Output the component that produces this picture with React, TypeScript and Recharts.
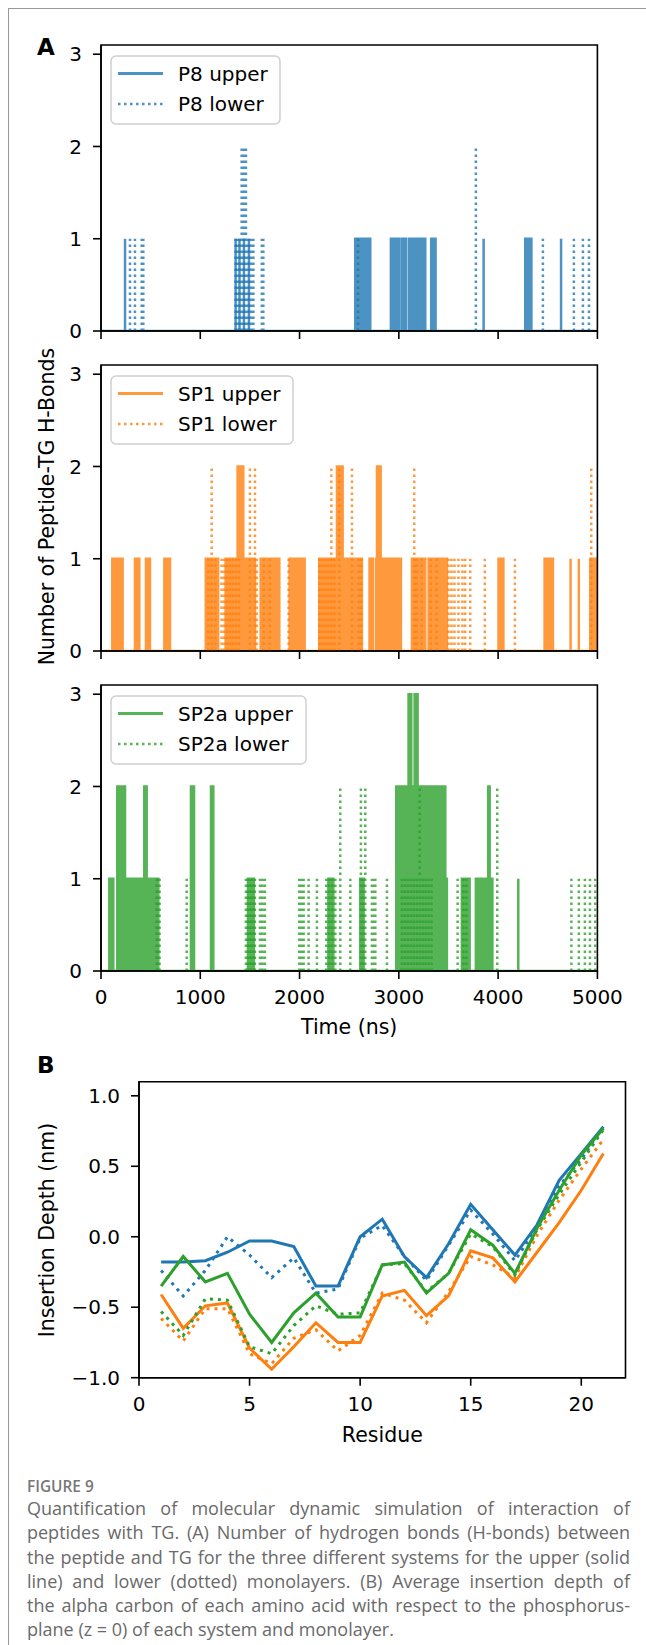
import React from 'react'
import { ComposedChart, Area, Line, LineChart, XAxis, YAxis, ReferenceArea } from 'recharts'

// ---- panel A: peptide-TG H-bonds over time ----
const timeTicks = [0, 1000, 2000, 3000, 4000, 5000]
const countTicks = [0, 1, 2, 3]

// upper monolayer (solid): [start ns, end ns, bonds]
const p8Upper = [
  [242, 242, 1], [1356, 1356, 1], [1395, 1395, 1], [1440, 1440, 1], [1490, 1490, 1],
  [2561, 2712, 1], [2920, 3004, 1], [3031, 3075, 1], [3105, 3205, 1], [3226, 3266, 1],
  [3326, 3370, 1], [3854, 3854, 1], [4273, 4335, 1], [4634, 4634, 1],
]
// lower monolayer (dotted): [time ns, bonds]
const p8Lower = [
  [292, 1], [342, 1], [410, 1], [426, 1], [1355, 1], [1370, 1], [1385, 1], [1400, 1],
  [1417, 2], [1430, 2], [1445, 2], [1460, 2], [1475, 1], [1500, 1], [1520, 1], [1535, 1],
  [1620, 1], [1635, 1], [2588, 1], [3776, 2], [4451, 1], [4763, 1], [4854, 1], [4915, 1],
]

const sp1Upper = [
  [114, 218, 1], [342, 386, 1], [453, 493, 1], [638, 695, 1], [1055, 1180, 1],
  [1255, 1376, 1], [1376, 1433, 2], [1433, 1551, 1], [1608, 1796, 1], [1900, 2051, 1],
  [2198, 2377, 1], [2377, 2434, 2], [2434, 2628, 1], [2705, 2740, 1], [2772, 2780, 1],
  [2780, 2817, 2], [2817, 3021, 1], [3132, 3266, 1], [3300, 3361, 1], [3374, 3417, 1],
  [3434, 3484, 1], [4004, 4053, 1], [4468, 4552, 1], [4730, 4730, 1], [4813, 4813, 1],
  [4928, 4990, 1],
]
const sp1Lower = [
  [1080, 1], [1115, 2], [1150, 1], [1215, 1], [1242, 1], [1270, 1], [1300, 1], [1330, 1],
  [1360, 1], [1390, 1], [1500, 2], [1551, 2], [1568, 1], [1640, 1], [1700, 1], [1890, 1],
  [2200, 1], [2230, 1], [2260, 1], [2290, 1], [2320, 2], [2350, 1], [2400, 2], [2528, 2],
  [2594, 1], [2621, 1], [3155, 2], [3180, 1], [3230, 1], [3320, 1], [3380, 1], [3500, 1],
  [3530, 1], [3560, 1], [3600, 1], [3640, 1], [3668, 1], [3719, 1], [3866, 1], [4169, 1],
  [4938, 2],
]

const sp2aUpper = [
  [84, 124, 1], [164, 242, 2], [242, 436, 1], [436, 460, 2], [460, 577, 1], [906, 937, 2],
  [1108, 1131, 2], [1480, 1540, 1], [2290, 2340, 1], [2612, 2645, 1], [2974, 3098, 2],
  [3098, 3125, 3], [3125, 3159, 2], [3159, 3189, 3], [3189, 3468, 2], [3468, 3484, 1],
  [3635, 3713, 1], [3776, 3900, 1], [3900, 3915, 2], [3915, 3942, 1], [4203, 4203, 1],
]
const sp2aLower = [
  [560, 1], [575, 1], [590, 1], [863, 1], [1460, 1], [1475, 1], [1490, 1], [1505, 1],
  [1520, 1], [1535, 1], [1550, 1], [1601, 1], [1625, 1], [1651, 1], [1997, 1], [2020, 1],
  [2041, 1], [2091, 1], [2175, 1], [2269, 1], [2300, 1], [2330, 1], [2360, 1], [2410, 2],
  [2511, 1], [2618, 2], [2640, 1], [2662, 2], [2729, 1], [2745, 1], [2763, 1], [2880, 1],
  [3030, 1], [3060, 1], [3090, 1], [3120, 1], [3150, 1], [3180, 1], [3210, 2], [3240, 1],
  [3270, 1], [3300, 1], [3330, 1], [3592, 1], [3650, 1], [3680, 1], [3991, 2], [4738, 1],
  [4813, 1], [4874, 1], [4925, 1], [4979, 1],
]

// ---- panel B: insertion depth per residue ----
const residues = [1, 2, 3, 4, 5, 6, 7, 8, 9, 10, 11, 12, 13, 14, 15, 16, 17, 18, 19, 20, 21]
const residueTicks = [0, 5, 10, 15, 20]
const depthTicks = [-1, -0.5, 0, 0.5, 1]
const p8UpperDepth = [-0.18, -0.18, -0.17, -0.11, -0.03, -0.03, -0.07, -0.35, -0.35, 0.0, 0.125, -0.14, -0.29, -0.05, 0.23, 0.05, -0.13, 0.085, 0.4, 0.59, 0.78]
const p8LowerDepth = [-0.24, -0.42, -0.24, 0.0, -0.13, -0.29, -0.15, -0.4, -0.37, -0.01, 0.08, -0.14, -0.31, -0.06, 0.19, 0.02, -0.17, 0.07, 0.36, 0.55, 0.78]
const sp1UpperDepth = [-0.41, -0.65, -0.49, -0.47, -0.79, -0.94, -0.78, -0.61, -0.75, -0.75, -0.42, -0.38, -0.56, -0.42, -0.1, -0.15, -0.32, -0.11, 0.1, 0.33, 0.59]
const sp1LowerDepth = [-0.58, -0.74, -0.51, -0.51, -0.83, -0.9, -0.72, -0.66, -0.81, -0.7, -0.4, -0.45, -0.61, -0.39, -0.14, -0.2, -0.29, 0.01, 0.26, 0.48, 0.69]
const sp2aUpperDepth = [-0.35, -0.14, -0.32, -0.26, -0.55, -0.75, -0.54, -0.4, -0.57, -0.57, -0.2, -0.18, -0.4, -0.26, 0.05, -0.06, -0.26, 0.06, 0.33, 0.58, 0.77]
const sp2aLowerDepth = [-0.53, -0.7, -0.44, -0.45, -0.78, -0.83, -0.63, -0.49, -0.55, -0.54, -0.2, -0.19, -0.39, -0.26, 0.02, -0.07, -0.27, 0.05, 0.3, 0.53, 0.76]

const captionLines = [
  'Quantification of molecular dynamic simulation of interaction of',
  'peptides with TG. (A) Number of hydrogen bonds (H-bonds) between',
  'the peptide and TG for the three different systems for the upper (solid',
  'line) and lower (dotted) monolayers. (B) Average insertion depth of',
  'the alpha carbon of each amino acid with respect to the phosphorus-',
  'plane (z = 0) of each system and monolayer.',
]

const BLUE = '#1f77b4'
const ORANGE = '#ff7f0e'
const GREEN = '#2ca02c'
const FONT = '"DejaVu Sans", sans-serif'

const tickStyle = { fill: '#000', fontSize: 20, fontFamily: FONT }
const axisStyle = { stroke: '#000', strokeWidth: 1.6 }
const noLabel = () => <g />

const toRows = (upper: number[][], lower: number[][]) => {
  const rows: any[] = [{ t: 0, up: 0 }]
  upper.forEach(([s, e, v]) => {
    rows.push({ t: s, up: 0 }, { t: s, up: v }, { t: e, up: v }, { t: e, up: 0 })
  })
  rows.push({ t: 5000, up: 0 })
  lower.forEach(([t, v]) => {
    rows.push({ t, low: 0 }, { t, low: v }, { t, low: null })
  })
  return rows
}

function LegendBox({ color, fill, upper, lower, width }: any) {
  return (
    <svg width={width + 2} height={70} style={{ position: 'absolute', left: 110, top: 55 }}>
      <rect x={1} y={1} width={width} height={68} rx={5} fill="rgba(255,255,255,0.8)" stroke="#d0d0d0" strokeWidth={1.5} />
      <line x1={8} x2={53} y1={18.5} y2={18.5} stroke={fill} strokeWidth={3} />
      <line x1={8} x2={53} y1={49} y2={49} stroke={color} strokeOpacity={0.8} strokeWidth={2.5} strokeDasharray="2.5 3.5" />
      <text x={68} y={18.5} dominantBaseline="central" fontSize={20} fontFamily={FONT}>{upper}</text>
      <text x={68} y={49} dominantBaseline="central" fontSize={20} fontFamily={FONT}>{lower}</text>
    </svg>
  )
}

function HBondPanel({ top, upper, lower, color, fill, names, legendWidth, showTime }: any) {
  const xh = showTime ? 49 : 29
  return (
    <div style={{ position: 'absolute', left: 0, top }}>
      <ComposedChart width={646} height={331 + xh} data={toRows(upper, lower)} margin={{ top: 45, right: 48.6, bottom: 0, left: 41 }}>
        <XAxis type="number" dataKey="t" domain={[0, 5000]} ticks={timeTicks} interval={0} height={xh} tickSize={8} tickMargin={11}
          tick={showTime ? tickStyle : noLabel} axisLine={axisStyle} tickLine={axisStyle} allowDataOverflow />
        <YAxis type="number" domain={[0, 3.1]} ticks={countTicks} interval={0} width={60} tickSize={8} tickMargin={11}
          tick={tickStyle} axisLine={axisStyle} tickLine={axisStyle} allowDataOverflow />
        <Area dataKey="up" type="linear" stroke={fill} strokeWidth={2.5} fill={fill} fillOpacity={1} connectNulls dot={false} activeDot={false} isAnimationActive={false} />
        <Line dataKey="low" type="linear" stroke={color} strokeOpacity={0.8} strokeWidth={2.5} strokeDasharray="2.5 3.5" connectNulls={false} dot={false} activeDot={false} isAnimationActive={false} />
        <ReferenceArea x1={0} x2={5000} y1={0} y2={3.1} fill="none" fillOpacity={0} stroke="#000" strokeWidth={1.6} ifOverflow="visible" />
      </ComposedChart>
      <LegendBox color={color} fill={fill} upper={names[0]} lower={names[1]} width={legendWidth} />
    </div>
  )
}

const depthRows = residues.map((r, i) => ({
  r,
  p8u: p8UpperDepth[i], p8l: p8LowerDepth[i],
  sp1u: sp1UpperDepth[i], sp1l: sp1LowerDepth[i],
  sp2u: sp2aUpperDepth[i], sp2l: sp2aLowerDepth[i],
}))

const fmtDepth = (v: number) => (v < 0 ? '\u2212' : '') + Math.abs(v).toFixed(1)

function DepthPanel() {
  const series = [
    ['p8u', BLUE, false], ['p8l', BLUE, true],
    ['sp1u', ORANGE, false], ['sp1l', ORANGE, true],
    ['sp2u', GREEN, false], ['sp2l', GREEN, true],
  ] as [string, string, boolean][]
  return (
    <div style={{ position: 'absolute', left: 0, top: 1040 }}>
      <LineChart width={646} height={400} data={depthRows} margin={{ top: 41.7, right: 20.5, bottom: 0, left: 79 }}>
        <XAxis type="number" dataKey="r" domain={[0, 22]} ticks={residueTicks} interval={0} height={62.3} tickSize={8} tickMargin={11}
          tick={tickStyle} axisLine={axisStyle} tickLine={axisStyle} allowDataOverflow />
        <YAxis type="number" domain={[-1, 1.1]} ticks={depthTicks} interval={0} width={60} tickSize={8} tickMargin={11}
          tick={tickStyle} tickFormatter={fmtDepth} axisLine={axisStyle} tickLine={axisStyle} allowDataOverflow />
        {series.map(([key, c, dotted]) => (
          <Line key={key} dataKey={key} type="linear" stroke={c} strokeWidth={3} strokeDasharray={dotted ? '3 5' : undefined}
            dot={false} activeDot={false} isAnimationActive={false} />
        ))}
        <ReferenceArea x1={0} x2={22} y1={-1} y2={1.1} fill="none" fillOpacity={0} stroke="#000" strokeWidth={1.6} ifOverflow="visible" />
      </LineChart>
    </div>
  )
}

export default function App() {
  return (
    <div style={{ position: 'absolute', left: 0, top: 0, width: 646, height: 1645, overflow: 'hidden', background: '#fff', fontFamily: FONT }}>
      <div style={{ position: 'absolute', left: 8, top: 8, width: 638, height: 1637, borderTop: '1px solid #9a9a9a', borderLeft: '1px solid #9a9a9a' }} />
      <HBondPanel top={0} upper={p8Upper} lower={p8Lower} color={BLUE} fill="#4c92c3" names={['P8 upper', 'P8 lower']} legendWidth={169} />
      <HBondPanel top={320} upper={sp1Upper} lower={sp1Lower} color={ORANGE} fill="#ff993e" names={['SP1 upper', 'SP1 lower']} legendWidth={182} />
      <HBondPanel top={640} upper={sp2aUpper} lower={sp2aLower} color={GREEN} fill="#56b356" names={['SP2a upper', 'SP2a lower']} legendWidth={195} showTime />
      <DepthPanel />
      <svg width={646} height={1645} style={{ position: 'absolute', left: 0, top: 0, pointerEvents: 'none' }}>
        <text x={37} y={55} fontSize={23} fontWeight="bold" fontFamily={FONT}>A</text>
        <text x={37} y={1073} fontSize={23} fontWeight="bold" fontFamily={FONT}>B</text>
        <text x={46.5} y={506.5} fontSize={20.5} fontFamily={FONT} textAnchor="middle" dominantBaseline="central" transform="rotate(-90 46.5 506.5)">Number of Peptide-TG H-Bonds</text>
        <text x={349.2} y={1027} fontSize={20.5} fontFamily={FONT} textAnchor="middle" dominantBaseline="central">Time (ns)</text>
        <text x={47} y={1230} fontSize={20.5} fontFamily={FONT} textAnchor="middle" dominantBaseline="central" transform="rotate(-90 47 1230)">Insertion Depth (nm)</text>
        <text x={382.3} y={1435} fontSize={20.5} fontFamily={FONT} textAnchor="middle" dominantBaseline="central">Residue</text>
      </svg>
      <div style={{ position: 'absolute', left: 27, top: 1476, fontFamily: '"Open Sans", sans-serif', fontSize: 15.4, fontWeight: 600, color: '#777', lineHeight: '22px' }}>FIGURE 9</div>
      <div style={{ position: 'absolute', left: 27, top: 1496, width: 603, fontFamily: '"Open Sans", sans-serif', fontSize: 18, color: '#6a6a6a', lineHeight: '24.3px' }}>
        {captionLines.map((l, i) => (
          <div key={i} style={{ whiteSpace: 'nowrap', textAlign: 'justify', textAlignLast: i < captionLines.length - 1 ? 'justify' : 'left' }}>{l}</div>
        ))}
      </div>
    </div>
  )
}
